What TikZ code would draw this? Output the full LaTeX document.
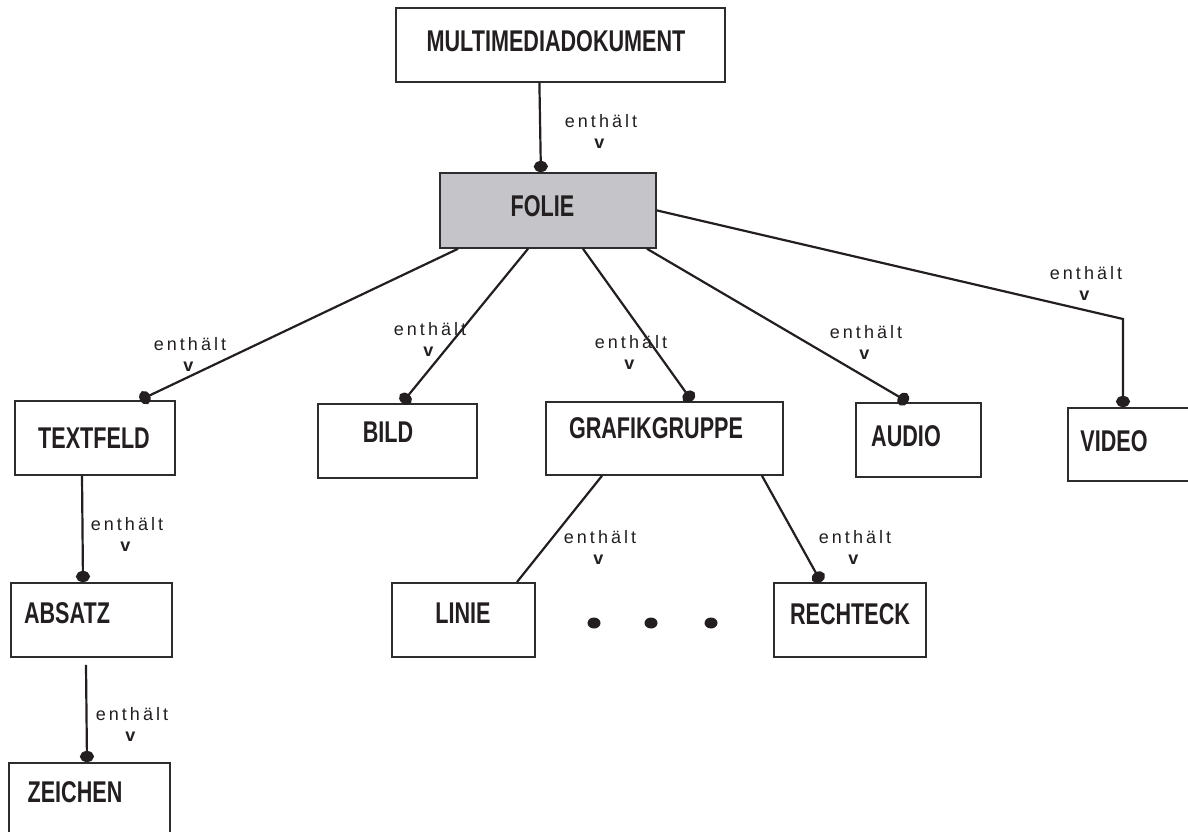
\documentclass[tikz,border=0pt]{standalone}
\usepackage{fontspec}
\setmainfont{Liberation Sans}
\newfontfamily\kastenfont{Liberation Sans}[FakeStretch=0.72]
\newfontfamily\relfont{Liberation Sans}[LetterSpace=17]
\usetikzlibrary{arrows.meta}

\definecolor{rahmen}{RGB}{45,45,45}
\definecolor{schrift}{RGB}{35,31,32}
\definecolor{foliegrau}{RGB}{196,196,201}

\tikzset{
  kasten/.style 2 args={draw=rahmen, line width=1.8pt, anchor=north west, inner sep=0pt,
    minimum width=#1, minimum height=#2},
  titel/.style={text=schrift, font=\kastenfont\bfseries\fontsize{30}{32}\selectfont, inner sep=0pt},
  rel/.style={align=center, text=schrift, font=\relfont\fontsize{18}{21}\selectfont, inner sep=0pt},
  enth/.style={line width=2.2pt, draw=schrift, -{Circle[length=11pt,width=14pt]}},
  verb/.style={line width=2.2pt, draw=schrift}
}

\begin{document}
\begin{tikzpicture}[x=1pt,y=-1pt]
\useasboundingbox (0,0) rectangle (1188,832);

% boxes
\node[kasten={329pt}{74pt}] (dok) at (395,7) {};
\node[kasten={216pt}{75pt}, fill=foliegrau] (folie) at (439,172) {};
\node[kasten={160pt}{74pt}] (textfeld) at (14,400) {};
\node[kasten={159pt}{74pt}] (bild) at (317,403) {};
\node[kasten={237pt}{73pt}] (grafik) at (545,401) {};
\node[kasten={125pt}{74pt}] (audio) at (855,402) {};
\node[kasten={130pt}{73pt}] (video) at (1067,407) {};
\node[kasten={161pt}{74pt}] (absatz) at (10,582) {};
\node[kasten={143pt}{74pt}] (linie) at (391,582) {};
\node[kasten={152pt}{74pt}] (rechteck) at (773,582) {};
\node[kasten={161pt}{80pt}] (zeichen) at (8,762) {};

% box texts
\node[titel] (dokT) at (556,41.5) {MULTIMEDIADOKUMENT};
\node[titel] (folieT) at (542.5,206.5) {FOLIE};
\node[titel] (textfeldT) at (94,438) {TEXTFELD};
\node[titel] (bildT) at (388,432.5) {BILD};
\node[titel] (grafikT) at (656,428) {GRAFIKGRUPPE};
\node[titel] (audioT) at (906,436) {AUDIO};
\node[titel] (videoT) at (1114,441) {VIDEO};
\node[titel] (absatzT) at (67,613) {ABSATZ};
\node[titel] (linieT) at (463,613) {LINIE};
\node[titel] (rechteckT) at (850,614) {RECHTECK};
\node[titel] (zeichenT) at (75,792) {ZEICHEN};

% relations
\draw[enth] ([xshift=-21pt]dok.south) -- ([xshift=-7pt]folie.north);
\draw[enth] ([xshift=19pt]folie.south west) -- ([xshift=126pt]textfeld.north west);
\draw[enth] ([xshift=89pt]folie.south west) -- ([xshift=85pt]bild.north west);
\draw[enth] ([xshift=144pt]folie.south west) -- ([xshift=147pt]grafik.north west);
\draw[enth] ([xshift=208pt]folie.south west) -- ([xshift=53pt]audio.north west);
\coordinate (knick) at (1123,319);
\draw[enth] (folie.east) -- (knick) -- ([xshift=56pt]video.north west);
\draw[enth] ([xshift=68pt]textfeld.south west) -- ([xshift=73pt]absatz.north west);
\draw[enth] ([xshift=76pt,yshift=-7pt]absatz.south west) -- ([xshift=79pt]zeichen.north west);
\draw[verb] ([xshift=57pt]grafik.south west) -- ([xshift=126pt]linie.north west);
\draw[enth] ([xshift=217pt]grafik.south west) -- ([xshift=48pt]rechteck.north west);

% labels
\node[rel] (r1) at (601,131) {enthält\\\textbf{v}};
\node[rel] (r2) at (190,354) {enthält\\\textbf{v}};
\node[rel] (r3) at (430,339) {enthält\\\textbf{v}};
\node[rel] (r4) at (631,352) {enthält\\\textbf{v}};
\node[rel] (r5) at (866,342) {enthält\\\textbf{v}};
\node[rel] (r6) at (1086,283) {enthält\\\textbf{v}};
\node[rel] (r7) at (127,534) {enthält\\\textbf{v}};
\node[rel] (r8) at (132,724) {enthält\\\textbf{v}};
\node[rel] (r9) at (600,547) {enthält\\\textbf{v}};
\node[rel] (r10) at (855,547) {enthält\\\textbf{v}};

% dots between LINIE and RECHTECK
\foreach \x in {594,651,711}
  \fill[schrift] (\x,623) ellipse (6.5pt and 5.5pt);

\end{tikzpicture}
\end{document}
